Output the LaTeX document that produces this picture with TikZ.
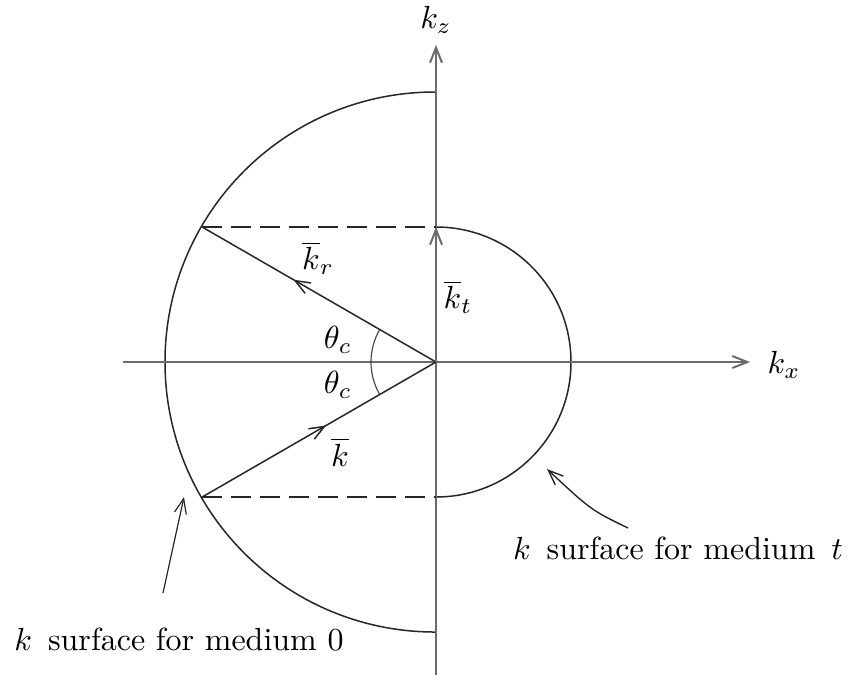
\documentclass[tikz,border=0pt]{standalone}
\usetikzlibrary{arrows.meta,decorations.markings}
\begin{document}
\begin{tikzpicture}[x=0.5pt,y=0.5pt,
  axis/.style={draw=black!58,line width=1pt},
  curve/.style={draw=black!85,line width=0.75pt},
  tip/.style={-{Straight Barb[length=7.5pt,width=6pt]}},
  guide/.style={draw=black!85,line width=0.7pt,dash pattern=on 10pt off 4.5pt},
  lbl/.style={scale=1.6,inner sep=0pt},
  midtip/.style={postaction={decorate,decoration={markings,mark=at position #1 with {\arrow{Straight Barb[length=7.5pt,width=6pt]}}}}}]
\useasboundingbox (-436,-315) rectangle (413,362);
% coordinates
\coordinate (O) at (0,0);
\coordinate (R) at (150:270);
\coordinate (K) at (210:270);
\coordinate (T) at (0,135);
\coordinate (Tb) at (0,-135);
\coordinate (xl) at (-313,0);
\coordinate (xr) at (314,0);
\coordinate (zb) at (-0,-313);
\coordinate (zt) at (0,317);
% surfaces
\draw[curve] (-1,270) arc[start angle=90,end angle=270,radius=270];
\draw[curve] (T) arc[start angle=90,end angle=-90,radius=135];
% axes
\draw[axis,tip] (xl) -- (xr);
\draw[axis,tip] (zb) -- (zt);
% dashed
\draw[guide] (R) -- (T);
\draw[guide] (K) -- (Tb);
% vectors
\draw[curve,midtip=0.61] (O) -- (R);
\draw[curve,midtip=0.53] (K) -- (O);
\draw[axis,tip] (O) -- (T);
% angle arc
\draw[draw=black!70,line width=0.6pt] (150:65) arc[start angle=150,end angle=210,radius=65];
% labels
\node[lbl] (kz) at (0,342) {$k_z$};
\node[lbl] (kx) at (348,-3) {$k_x$};
\node[lbl] (th1) at (-98,22) {$\theta_c$};
\node[lbl] (th2) at (-98,-23) {$\theta_c$};
\node[lbl] (kr) at (-118,104) {$\overline{k}_r$};
\node[lbl] (kt) at (22,65) {$\overline{k}_t$};
\node[lbl] (kk) at (-96,-90) {$\overline{k}$};
\node[lbl] (mt) at (242,-186) {$k$\ \,surface for medium\ \,$t$};
\node[lbl] (m0) at (-257,-278) {$k$\ \,surface for medium 0};
% annotation arrows
\coordinate (a0s) at (-273,-231);
\coordinate (a0e) at (-252,-135);
\coordinate (ats) at (192,-166);
\coordinate (ate) at (111,-107);
\draw[draw=black!85,line width=0.6pt,tip] (a0s) -- (a0e);
\draw[draw=black!85,line width=0.7pt,tip] (ats) .. controls (155,-148) .. (ate);
\end{tikzpicture}
\end{document}
